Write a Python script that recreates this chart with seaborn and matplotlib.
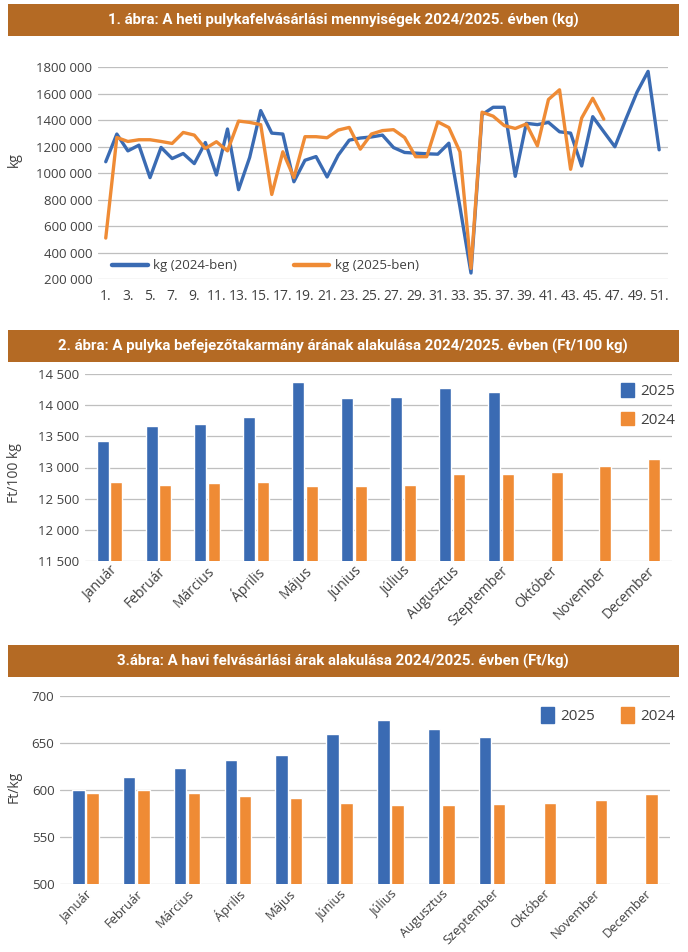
import matplotlib
matplotlib.use("Agg")
import pandas as pd
import matplotlib.pyplot as plt
import seaborn as sns
from matplotlib.patches import Rectangle, Patch
from matplotlib.lines import Line2D
from matplotlib.ticker import FuncFormatter

# ---- adatok ----
weeks_2024 = list(range(1, 52))
kg_2024 = [1085, 1294, 1167, 1210, 965, 1193, 1109, 1147, 1071, 1230,
           985, 1332, 874, 1117, 1471, 1301, 1294, 934, 1096, 1124,
           970, 1134, 1248, 1264, 1272, 1286, 1192, 1155, 1150, 1145,
           1142, 1225, 745, 245, 1440, 1496, 1496, 975, 1375, 1365,
           1382, 1311, 1301, 1053, 1425, 1311, 1198, 1408, 1610, 1767,
           1175]
weeks_2025 = list(range(1, 47))
kg_2025 = [509, 1268, 1238, 1251, 1251, 1238, 1223, 1306, 1286, 1185,
           1236, 1167, 1392, 1382, 1365, 838, 1160, 965, 1274, 1274,
           1266, 1324, 1344, 1180, 1294, 1320, 1327, 1268, 1123, 1123,
           1386, 1343, 1160, 280, 1459, 1429, 1358, 1336, 1370, 1205,
           1555, 1628, 1028, 1415, 1564, 1406]

honapok = ["Január", "Február", "Március", "Április", "Május", "Június",
           "Július", "Augusztus", "Szeptember", "Október", "November", "December"]

takarmany_2025 = [13419, 13671, 13698, 13805, 14373, 14121, 14137, 14271, 14218,
                  None, None, None]
takarmany_2024 = [12770, 12717, 12754, 12770, 12706, 12706, 12717, 12888, 12888,
                  12920, 13022, 13135]

ar_2025 = [600, 614, 623, 632, 637, 659.5, 674, 665, 656, None, None, None]
ar_2024 = [597, 600, 597, 594, 591, 586, 584, 584, 585, 586, 589, 596]

cim1 = "1. ábra: A heti pulykafelvásárlási mennyiségek 2024/2025. évben (kg)"
cim2 = "2. ábra: A pulyka befejezőtakarmány árának alakulása 2024/2025. évben (Ft/100 kg)"
cim3 = "3.ábra: A havi felvásárlási árak alakulása 2024/2025. évben (Ft/kg)"

KEK = "#3A6BB3"
NARANCS = "#EF8B35"
BARNA = "#B46A24"
SZURKE = "#BFBFBF"
SZOVEG = "#404040"

sns.set_theme(style="white")
plt.rcParams["font.family"] = ["Open Sans", "DejaVu Sans"]

W, H = 688, 952
def fx(px):
    return px / W
def fy(py):
    return 1 - py / H

fig = plt.figure(figsize=(6.88, 9.52), dpi=100)

# címsávok
for y0, y1, szoveg in [(4, 36, cim1), (330, 362, cim2), (645, 677, cim3)]:
    fig.add_artist(Rectangle((fx(7.5), fy(y1)), fx(679) - fx(7.5), (y1 - y0) / H,
                             transform=fig.transFigure, color=BARNA, lw=0))
    fig.text(fx(343), fy((y0 + y1) / 2), szoveg, color="white", fontsize=10.8,
             fontweight="bold", ha="center", va="center",
             family=["Roboto", "DejaVu Sans"])


def alap(ax):
    for s in ax.spines.values():
        s.set_visible(False)
    ax.grid(axis="y", color=SZURKE, lw=0.9)
    ax.grid(axis="x", visible=False)
    ax.set_axisbelow(True)
    ax.tick_params(axis="both", length=0, colors=SZOVEG, labelsize=9.5, pad=4)
    ax.set_xlabel("")
    ax.set_ylabel("")


# ---- 1. ábra ----
ax1 = fig.add_axes([fx(98), fy(279), fx(668) - fx(98), (279 - 67) / H])
df1a = pd.DataFrame({"het": weeks_2024, "kg": [v * 1000 for v in kg_2024]})
df1b = pd.DataFrame({"het": weeks_2025, "kg": [v * 1000 for v in kg_2025]})
sns.lineplot(data=df1a, x="het", y="kg", ax=ax1, color=KEK, lw=2.4)
sns.lineplot(data=df1b, x="het", y="kg", ax=ax1, color=NARANCS, lw=2.4)
alap(ax1)
ax1.tick_params(axis="x", labelsize=10, pad=7)
ax1.set_xlim(0.3, 51.8)
ax1.set_ylim(200000, 1800000)
ax1.set_yticks(range(200000, 1800001, 200000))
ax1.yaxis.set_major_formatter(FuncFormatter(lambda v, p: f"{int(v) // 1000} 000"))
ax1.set_xticks(range(1, 52, 2))
ax1.set_xticklabels([f"{w}." for w in range(1, 52, 2)])
fig.text(fx(14), fy(160), "kg", rotation=90, ha="center", va="center",
         color=SZOVEG, fontsize=10)
ax1.legend(handles=[Line2D([], [], color=KEK, lw=3.2),
                    Line2D([], [], color=NARANCS, lw=3.2)],
           labels=["kg (2024-ben)", "kg (2025-ben)"], ncol=2, frameon=False,
           loc="center left", bbox_to_anchor=(0.025, 0.062), borderpad=0,
           borderaxespad=0, handlelength=2.7, handletextpad=0.4,
           columnspacing=4.3, fontsize=9.5, labelcolor=SZOVEG)


def oszlop(ax, v2025, v2024, meret):
    df = pd.DataFrame({
        "honap": honapok * 2,
        "ev": ["2025"] * 12 + ["2024"] * 12,
        "ertek": v2025 + v2024,
    }).dropna()
    sns.barplot(data=df, x="honap", y="ertek", hue="ev", order=honapok,
                hue_order=["2025", "2024"], palette=[KEK, NARANCS],
                width=0.56, gap=0.12, errorbar=None, legend=False, ax=ax,
                saturation=1)
    alap(ax)
    ax.set_xlim(-0.5, 11.5)
    ax.tick_params(axis="x", pad=2)
    plt.setp(ax.get_xticklabels(), rotation=45, ha="right",
             rotation_mode="anchor", fontsize=meret)


# ---- 2. ábra ----
ax2 = fig.add_axes([fx(85), fy(561), fx(672) - fx(85), (561 - 374) / H])
oszlop(ax2, takarmany_2025, takarmany_2024, 10)
ax2.set_ylim(11500, 14500)
ax2.set_yticks(range(11500, 14501, 500))
ax2.yaxis.set_major_formatter(FuncFormatter(lambda v, p: f"{int(v):,}".replace(",", " ")))
fig.text(fx(15), fy(473), "Ft/100 kg", rotation=90, ha="center", va="center",
         color=SZOVEG, fontsize=10)
ax2.legend(handles=[Patch(color=KEK), Patch(color=NARANCS)], labels=["2025", "2024"],
           frameon=False, loc="upper left", bbox_to_anchor=(0.913, 0.95),
           borderpad=0, borderaxespad=0, handlelength=0.85, handleheight=1.0,
           handletextpad=0.4, labelspacing=0.8, fontsize=11, labelcolor=SZOVEG)

# ---- 3. ábra ----
ax3 = fig.add_axes([fx(60), fy(884), fx(670) - fx(60), (884 - 696) / H])
oszlop(ax3, ar_2025, ar_2024, 9.3)
ax3.set_ylim(500, 700)
ax3.set_yticks(range(500, 701, 50))
fig.text(fx(14), fy(787), "Ft/kg", rotation=90, ha="center", va="center",
         color=SZOVEG, fontsize=10)
ax3.legend(handles=[Patch(color=KEK), Patch(color=NARANCS)], labels=["2025", "2024"],
           ncol=2, frameon=False, loc="center left", bbox_to_anchor=(0.789, 0.894),
           borderpad=0, borderaxespad=0, handlelength=0.85, handleheight=1.2,
           handletextpad=0.4, columnspacing=1.7, fontsize=11, labelcolor=SZOVEG)

fig.savefig("out.png", dpi=100)
